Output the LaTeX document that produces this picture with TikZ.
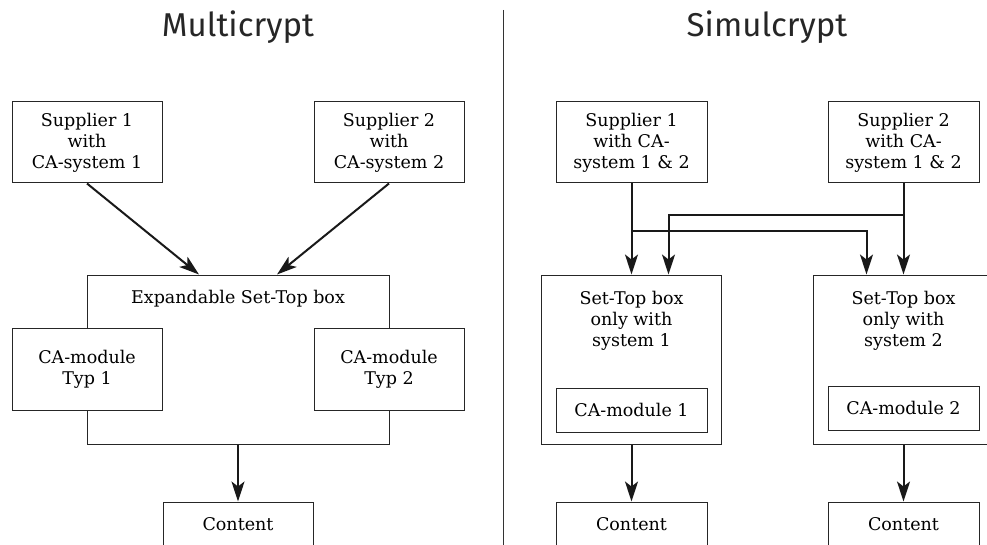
\documentclass[tikz,border=0pt]{standalone}
\usepackage{fontspec}
\setmainfont{DejaVu Serif}
\newfontfamily\titlefont{Fira Sans}
\usetikzlibrary{arrows.meta}
\begin{document}
\begin{tikzpicture}[x=1pt,y=-1pt,
  box/.style={draw=black!85, line width=1pt, fill=white, inner sep=0pt, align=center,
    font=\fontsize{17.5}{21}\selectfont},
  label/.style={inner sep=0pt, align=center, font=\fontsize{17.5}{21}\selectfont},
  title/.style={inner sep=0pt, anchor=base, font=\titlefont\fontsize{33}{38}\selectfont, text=black!85},
  arr/.style={draw=black!90, line width=2pt, -{Stealth[length=20pt,width=13pt,inset=5pt]}},
  divider/.style={draw=black!80, line width=0.9pt}]
\useasboundingbox (0,0) rectangle (987,545);

% titles and separating rule
\node[title] (tm) at (238,37) {Multicrypt};
\node[title] (ts) at (767,37) {Simulcrypt};
\coordinate (dtop) at (503,10);
\coordinate (dbot) at (503,546);
\draw[divider] (dtop) -- (dbot);

% ---- Multicrypt ----
\node[box, minimum width=150pt, minimum height=81pt] (ms1) at (87,142.5) {Supplier 1\\with\\CA-system 1};
\node[box, minimum width=150pt, minimum height=81pt] (ms2) at (389,142.5) {Supplier 2\\with\\CA-system 2};
\node[box, minimum width=302pt, minimum height=169pt] (exp) at (238,359.5) {};
\node[label] (expl) at (238,299) {Expandable Set-Top box};
\node[box, minimum width=150pt, minimum height=82pt] (mca1) at (87,369) {CA-module\\Typ 1};
\node[box, minimum width=150pt, minimum height=82pt] (mca2) at (389,369) {CA-module\\Typ 2};
\node[box, minimum width=150pt, minimum height=44pt] (mct) at (238,524) {Content};

\draw[arr] (ms1.south) -- ([xshift=-39pt]exp.north);
\draw[arr] (ms2.south) -- ([xshift=39pt]exp.north);
\draw[arr] (exp.south) -- (mct.north);

% ---- Simulcrypt ----
\node[box, minimum width=151pt, minimum height=81pt] (ss1) at (631.5,142.5) {Supplier 1\\with CA-\\system 1 \& 2};
\node[box, minimum width=151pt, minimum height=81pt] (ss2) at (903.5,142.5) {Supplier 2\\with CA-\\system 1 \& 2};

\node[box, minimum width=180pt, minimum height=169pt] (stb1) at (631.5,359.5) {};
\node[label] (stb1l) at (631.5,321) {Set-Top box\\only with\\system 1};
\node[box, minimum width=151pt, minimum height=44pt] (sca1) at (631.5,410) {CA-module 1};

\node[box, minimum width=180pt, minimum height=169pt] (stb2) at (903.5,359.5) {};
\node[label] (stb2l) at (903.5,321) {Set-Top box\\only with\\system 2};
\node[box, minimum width=151pt, minimum height=44pt] (sca2) at (903.5,408) {CA-module 2};

\node[box, minimum width=151pt, minimum height=44pt] (sct1) at (631.5,524) {Content};
\node[box, minimum width=151pt, minimum height=44pt] (sct2) at (903.5,524) {Content};

% distribution lines from both suppliers to both boxes
\coordinate (j1) at (631.5,231);
\coordinate (j2) at (903.5,215);
\draw[arr] (ss1.south) -- (stb1.north);
\draw[arr] (ss2.south) -- (stb2.north);
\draw[arr] (j1) -| ([xshift=-37pt]stb2.north);
\draw[arr] (j2) -| ([xshift=37pt]stb1.north);

\draw[arr] (stb1.south) -- (sct1.north);
\draw[arr] (stb2.south) -- (sct2.north);
\end{tikzpicture}
\end{document}
